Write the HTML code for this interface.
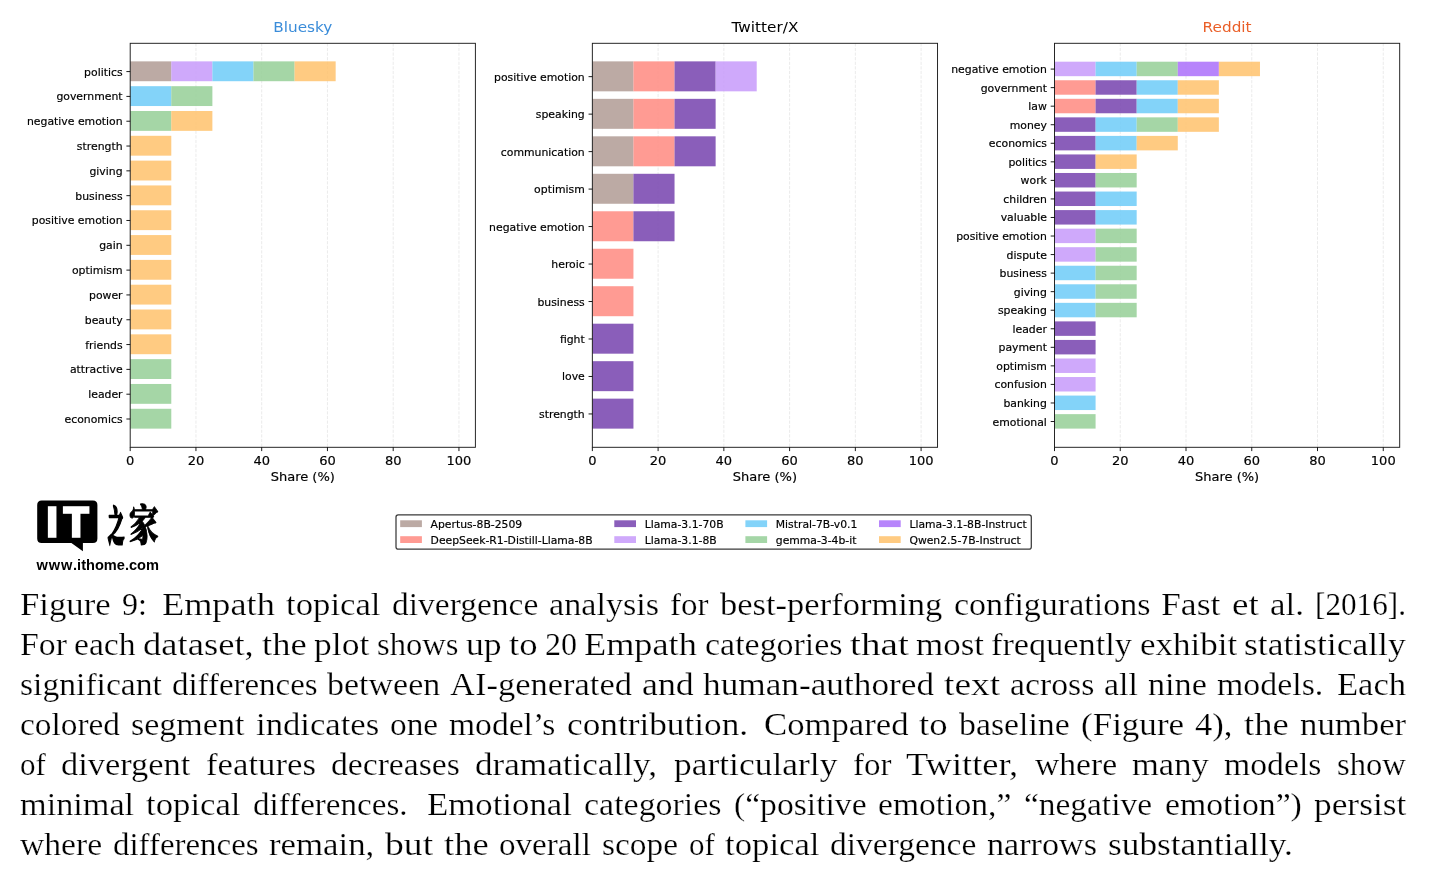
<!DOCTYPE html>
<html lang="en"><head><meta charset="utf-8"><title>Figure 9</title>
<style>
html,body{margin:0;padding:0;background:#fff}
.ch text,.lg text{stroke:#000;stroke-width:.18px}
.ch text.ti{stroke:none}
body{width:1440px;height:876px;position:relative;overflow:hidden}
.ln{position:absolute;left:19px;width:1400px;height:40px;line-height:40px;font-family:"Liberation Serif",serif;font-size:32.6px;color:#000;white-space:nowrap;font-kerning:normal;-webkit-text-stroke:0.24px #fff;paint-order:fill stroke}
.ln span{position:absolute;top:0;display:block;transform-origin:0 0}
</style></head><body>
<svg width="1440" height="590" viewBox="0 0 1440 590" style="position:absolute;left:0;top:0" font-family="'DejaVu Sans', 'Liberation Sans', sans-serif">
<g class="ch">
<line x1="195.95" y1="43.30" x2="195.95" y2="447.30" stroke="#b0b0b0" stroke-opacity="0.28" stroke-width="0.9" stroke-dasharray="3.2 1.4"/>
<line x1="261.70" y1="43.30" x2="261.70" y2="447.30" stroke="#b0b0b0" stroke-opacity="0.28" stroke-width="0.9" stroke-dasharray="3.2 1.4"/>
<line x1="327.45" y1="43.30" x2="327.45" y2="447.30" stroke="#b0b0b0" stroke-opacity="0.28" stroke-width="0.9" stroke-dasharray="3.2 1.4"/>
<line x1="393.20" y1="43.30" x2="393.20" y2="447.30" stroke="#b0b0b0" stroke-opacity="0.28" stroke-width="0.9" stroke-dasharray="3.2 1.4"/>
<line x1="458.95" y1="43.30" x2="458.95" y2="447.30" stroke="#b0b0b0" stroke-opacity="0.28" stroke-width="0.9" stroke-dasharray="3.2 1.4"/>
<rect x="130.20" y="61.36" width="41.09" height="19.85" fill="#b09b94" fill-opacity="0.85"/>
<rect x="171.29" y="61.36" width="41.09" height="19.85" fill="#c79afa" fill-opacity="0.85"/>
<rect x="212.39" y="61.36" width="41.09" height="19.85" fill="#6dcbf8" fill-opacity="0.85"/>
<rect x="253.48" y="61.36" width="41.09" height="19.85" fill="#95cf97" fill-opacity="0.85"/>
<rect x="294.57" y="61.36" width="41.09" height="19.85" fill="#ffc26c" fill-opacity="0.85"/>
<rect x="130.20" y="86.18" width="41.09" height="19.85" fill="#6dcbf8" fill-opacity="0.85"/>
<rect x="171.29" y="86.18" width="41.09" height="19.85" fill="#95cf97" fill-opacity="0.85"/>
<rect x="130.20" y="111.00" width="41.09" height="19.85" fill="#95cf97" fill-opacity="0.85"/>
<rect x="171.29" y="111.00" width="41.09" height="19.85" fill="#ffc26c" fill-opacity="0.85"/>
<rect x="130.20" y="135.81" width="41.09" height="19.85" fill="#ffc26c" fill-opacity="0.85"/>
<rect x="130.20" y="160.63" width="41.09" height="19.85" fill="#ffc26c" fill-opacity="0.85"/>
<rect x="130.20" y="185.44" width="41.09" height="19.85" fill="#ffc26c" fill-opacity="0.85"/>
<rect x="130.20" y="210.26" width="41.09" height="19.85" fill="#ffc26c" fill-opacity="0.85"/>
<rect x="130.20" y="235.07" width="41.09" height="19.85" fill="#ffc26c" fill-opacity="0.85"/>
<rect x="130.20" y="259.89" width="41.09" height="19.85" fill="#ffc26c" fill-opacity="0.85"/>
<rect x="130.20" y="284.71" width="41.09" height="19.85" fill="#ffc26c" fill-opacity="0.85"/>
<rect x="130.20" y="309.52" width="41.09" height="19.85" fill="#ffc26c" fill-opacity="0.85"/>
<rect x="130.20" y="334.34" width="41.09" height="19.85" fill="#ffc26c" fill-opacity="0.85"/>
<rect x="130.20" y="359.15" width="41.09" height="19.85" fill="#95cf97" fill-opacity="0.85"/>
<rect x="130.20" y="383.97" width="41.09" height="19.85" fill="#95cf97" fill-opacity="0.85"/>
<rect x="130.20" y="408.78" width="41.09" height="19.85" fill="#95cf97" fill-opacity="0.85"/>
<rect x="130.20" y="43.30" width="345.19" height="404.00" fill="none" stroke="#1c1c1c" stroke-width="0.95"/>
<line x1="126.40" y1="71.59" x2="130.20" y2="71.59" stroke="#000" stroke-width="0.9"/>
<text x="122.60" y="75.59" font-size="10.86" text-anchor="end">politics</text>
<line x1="126.40" y1="96.41" x2="130.20" y2="96.41" stroke="#000" stroke-width="0.9"/>
<text x="122.60" y="100.41" font-size="10.86" text-anchor="end">government</text>
<line x1="126.40" y1="121.22" x2="130.20" y2="121.22" stroke="#000" stroke-width="0.9"/>
<text x="122.60" y="125.22" font-size="10.86" text-anchor="end">negative emotion</text>
<line x1="126.40" y1="146.04" x2="130.20" y2="146.04" stroke="#000" stroke-width="0.9"/>
<text x="122.60" y="150.04" font-size="10.86" text-anchor="end">strength</text>
<line x1="126.40" y1="170.85" x2="130.20" y2="170.85" stroke="#000" stroke-width="0.9"/>
<text x="122.60" y="174.85" font-size="10.86" text-anchor="end">giving</text>
<line x1="126.40" y1="195.67" x2="130.20" y2="195.67" stroke="#000" stroke-width="0.9"/>
<text x="122.60" y="199.67" font-size="10.86" text-anchor="end">business</text>
<line x1="126.40" y1="220.48" x2="130.20" y2="220.48" stroke="#000" stroke-width="0.9"/>
<text x="122.60" y="224.48" font-size="10.86" text-anchor="end">positive emotion</text>
<line x1="126.40" y1="245.30" x2="130.20" y2="245.30" stroke="#000" stroke-width="0.9"/>
<text x="122.60" y="249.30" font-size="10.86" text-anchor="end">gain</text>
<line x1="126.40" y1="270.12" x2="130.20" y2="270.12" stroke="#000" stroke-width="0.9"/>
<text x="122.60" y="274.12" font-size="10.86" text-anchor="end">optimism</text>
<line x1="126.40" y1="294.93" x2="130.20" y2="294.93" stroke="#000" stroke-width="0.9"/>
<text x="122.60" y="298.93" font-size="10.86" text-anchor="end">power</text>
<line x1="126.40" y1="319.75" x2="130.20" y2="319.75" stroke="#000" stroke-width="0.9"/>
<text x="122.60" y="323.75" font-size="10.86" text-anchor="end">beauty</text>
<line x1="126.40" y1="344.56" x2="130.20" y2="344.56" stroke="#000" stroke-width="0.9"/>
<text x="122.60" y="348.56" font-size="10.86" text-anchor="end">friends</text>
<line x1="126.40" y1="369.38" x2="130.20" y2="369.38" stroke="#000" stroke-width="0.9"/>
<text x="122.60" y="373.38" font-size="10.86" text-anchor="end">attractive</text>
<line x1="126.40" y1="394.19" x2="130.20" y2="394.19" stroke="#000" stroke-width="0.9"/>
<text x="122.60" y="398.19" font-size="10.86" text-anchor="end">leader</text>
<line x1="126.40" y1="419.01" x2="130.20" y2="419.01" stroke="#000" stroke-width="0.9"/>
<text x="122.60" y="423.01" font-size="10.86" text-anchor="end">economics</text>
<line x1="130.20" y1="447.30" x2="130.20" y2="451.10" stroke="#000" stroke-width="0.9"/>
<text x="130.20" y="464.5" font-size="13.03" text-anchor="middle">0</text>
<line x1="195.95" y1="447.30" x2="195.95" y2="451.10" stroke="#000" stroke-width="0.9"/>
<text x="195.95" y="464.5" font-size="13.03" text-anchor="middle">20</text>
<line x1="261.70" y1="447.30" x2="261.70" y2="451.10" stroke="#000" stroke-width="0.9"/>
<text x="261.70" y="464.5" font-size="13.03" text-anchor="middle">40</text>
<line x1="327.45" y1="447.30" x2="327.45" y2="451.10" stroke="#000" stroke-width="0.9"/>
<text x="327.45" y="464.5" font-size="13.03" text-anchor="middle">60</text>
<line x1="393.20" y1="447.30" x2="393.20" y2="451.10" stroke="#000" stroke-width="0.9"/>
<text x="393.20" y="464.5" font-size="13.03" text-anchor="middle">80</text>
<line x1="458.95" y1="447.30" x2="458.95" y2="451.10" stroke="#000" stroke-width="0.9"/>
<text x="458.95" y="464.5" font-size="13.03" text-anchor="middle">100</text>
<text x="302.79" y="480.9" font-size="13.03" text-anchor="middle">Share (%)</text>
<text transform="translate(302.79 31.8) scale(1.04 1)" x="0" y="0" font-size="14.7" text-anchor="middle" class="ti" fill="#3a8cd9">Bluesky</text>
</g>
<g class="ch">
<line x1="658.10" y1="43.30" x2="658.10" y2="447.30" stroke="#b0b0b0" stroke-opacity="0.28" stroke-width="0.9" stroke-dasharray="3.2 1.4"/>
<line x1="723.85" y1="43.30" x2="723.85" y2="447.30" stroke="#b0b0b0" stroke-opacity="0.28" stroke-width="0.9" stroke-dasharray="3.2 1.4"/>
<line x1="789.60" y1="43.30" x2="789.60" y2="447.30" stroke="#b0b0b0" stroke-opacity="0.28" stroke-width="0.9" stroke-dasharray="3.2 1.4"/>
<line x1="855.35" y1="43.30" x2="855.35" y2="447.30" stroke="#b0b0b0" stroke-opacity="0.28" stroke-width="0.9" stroke-dasharray="3.2 1.4"/>
<line x1="921.10" y1="43.30" x2="921.10" y2="447.30" stroke="#b0b0b0" stroke-opacity="0.28" stroke-width="0.9" stroke-dasharray="3.2 1.4"/>
<rect x="592.35" y="61.36" width="41.09" height="29.98" fill="#b09b94" fill-opacity="0.85"/>
<rect x="633.44" y="61.36" width="41.09" height="29.98" fill="#ff8980" fill-opacity="0.85"/>
<rect x="674.54" y="61.36" width="41.09" height="29.98" fill="#7542ae" fill-opacity="0.85"/>
<rect x="715.63" y="61.36" width="41.09" height="29.98" fill="#c79afa" fill-opacity="0.85"/>
<rect x="592.35" y="98.84" width="41.09" height="29.98" fill="#b09b94" fill-opacity="0.85"/>
<rect x="633.44" y="98.84" width="41.09" height="29.98" fill="#ff8980" fill-opacity="0.85"/>
<rect x="674.54" y="98.84" width="41.09" height="29.98" fill="#7542ae" fill-opacity="0.85"/>
<rect x="592.35" y="136.32" width="41.09" height="29.98" fill="#b09b94" fill-opacity="0.85"/>
<rect x="633.44" y="136.32" width="41.09" height="29.98" fill="#ff8980" fill-opacity="0.85"/>
<rect x="674.54" y="136.32" width="41.09" height="29.98" fill="#7542ae" fill-opacity="0.85"/>
<rect x="592.35" y="173.79" width="41.09" height="29.98" fill="#b09b94" fill-opacity="0.85"/>
<rect x="633.44" y="173.79" width="41.09" height="29.98" fill="#7542ae" fill-opacity="0.85"/>
<rect x="592.35" y="211.27" width="41.09" height="29.98" fill="#ff8980" fill-opacity="0.85"/>
<rect x="633.44" y="211.27" width="41.09" height="29.98" fill="#7542ae" fill-opacity="0.85"/>
<rect x="592.35" y="248.75" width="41.09" height="29.98" fill="#ff8980" fill-opacity="0.85"/>
<rect x="592.35" y="286.22" width="41.09" height="29.98" fill="#ff8980" fill-opacity="0.85"/>
<rect x="592.35" y="323.70" width="41.09" height="29.98" fill="#7542ae" fill-opacity="0.85"/>
<rect x="592.35" y="361.18" width="41.09" height="29.98" fill="#7542ae" fill-opacity="0.85"/>
<rect x="592.35" y="398.65" width="41.09" height="29.98" fill="#7542ae" fill-opacity="0.85"/>
<rect x="592.35" y="43.30" width="345.19" height="404.00" fill="none" stroke="#1c1c1c" stroke-width="0.95"/>
<line x1="588.55" y1="76.65" x2="592.35" y2="76.65" stroke="#000" stroke-width="0.9"/>
<text x="584.75" y="80.65" font-size="10.86" text-anchor="end">positive emotion</text>
<line x1="588.55" y1="114.13" x2="592.35" y2="114.13" stroke="#000" stroke-width="0.9"/>
<text x="584.75" y="118.13" font-size="10.86" text-anchor="end">speaking</text>
<line x1="588.55" y1="151.61" x2="592.35" y2="151.61" stroke="#000" stroke-width="0.9"/>
<text x="584.75" y="155.61" font-size="10.86" text-anchor="end">communication</text>
<line x1="588.55" y1="189.08" x2="592.35" y2="189.08" stroke="#000" stroke-width="0.9"/>
<text x="584.75" y="193.08" font-size="10.86" text-anchor="end">optimism</text>
<line x1="588.55" y1="226.56" x2="592.35" y2="226.56" stroke="#000" stroke-width="0.9"/>
<text x="584.75" y="230.56" font-size="10.86" text-anchor="end">negative emotion</text>
<line x1="588.55" y1="264.04" x2="592.35" y2="264.04" stroke="#000" stroke-width="0.9"/>
<text x="584.75" y="268.04" font-size="10.86" text-anchor="end">heroic</text>
<line x1="588.55" y1="301.52" x2="592.35" y2="301.52" stroke="#000" stroke-width="0.9"/>
<text x="584.75" y="305.52" font-size="10.86" text-anchor="end">business</text>
<line x1="588.55" y1="338.99" x2="592.35" y2="338.99" stroke="#000" stroke-width="0.9"/>
<text x="584.75" y="342.99" font-size="10.86" text-anchor="end">fight</text>
<line x1="588.55" y1="376.47" x2="592.35" y2="376.47" stroke="#000" stroke-width="0.9"/>
<text x="584.75" y="380.47" font-size="10.86" text-anchor="end">love</text>
<line x1="588.55" y1="413.95" x2="592.35" y2="413.95" stroke="#000" stroke-width="0.9"/>
<text x="584.75" y="417.95" font-size="10.86" text-anchor="end">strength</text>
<line x1="592.35" y1="447.30" x2="592.35" y2="451.10" stroke="#000" stroke-width="0.9"/>
<text x="592.35" y="464.5" font-size="13.03" text-anchor="middle">0</text>
<line x1="658.10" y1="447.30" x2="658.10" y2="451.10" stroke="#000" stroke-width="0.9"/>
<text x="658.10" y="464.5" font-size="13.03" text-anchor="middle">20</text>
<line x1="723.85" y1="447.30" x2="723.85" y2="451.10" stroke="#000" stroke-width="0.9"/>
<text x="723.85" y="464.5" font-size="13.03" text-anchor="middle">40</text>
<line x1="789.60" y1="447.30" x2="789.60" y2="451.10" stroke="#000" stroke-width="0.9"/>
<text x="789.60" y="464.5" font-size="13.03" text-anchor="middle">60</text>
<line x1="855.35" y1="447.30" x2="855.35" y2="451.10" stroke="#000" stroke-width="0.9"/>
<text x="855.35" y="464.5" font-size="13.03" text-anchor="middle">80</text>
<line x1="921.10" y1="447.30" x2="921.10" y2="451.10" stroke="#000" stroke-width="0.9"/>
<text x="921.10" y="464.5" font-size="13.03" text-anchor="middle">100</text>
<text x="764.94" y="480.9" font-size="13.03" text-anchor="middle">Share (%)</text>
<text transform="translate(764.94 31.8) scale(1.04 1)" x="0" y="0" font-size="14.7" text-anchor="middle" class="ti" fill="#000">Twitter/X</text>
</g>
<g class="ch">
<line x1="1120.25" y1="43.30" x2="1120.25" y2="447.30" stroke="#b0b0b0" stroke-opacity="0.28" stroke-width="0.9" stroke-dasharray="3.2 1.4"/>
<line x1="1186.00" y1="43.30" x2="1186.00" y2="447.30" stroke="#b0b0b0" stroke-opacity="0.28" stroke-width="0.9" stroke-dasharray="3.2 1.4"/>
<line x1="1251.75" y1="43.30" x2="1251.75" y2="447.30" stroke="#b0b0b0" stroke-opacity="0.28" stroke-width="0.9" stroke-dasharray="3.2 1.4"/>
<line x1="1317.50" y1="43.30" x2="1317.50" y2="447.30" stroke="#b0b0b0" stroke-opacity="0.28" stroke-width="0.9" stroke-dasharray="3.2 1.4"/>
<line x1="1383.25" y1="43.30" x2="1383.25" y2="447.30" stroke="#b0b0b0" stroke-opacity="0.28" stroke-width="0.9" stroke-dasharray="3.2 1.4"/>
<rect x="1054.50" y="61.70" width="41.09" height="14.47" fill="#c79afa" fill-opacity="0.85"/>
<rect x="1095.59" y="61.70" width="41.09" height="14.47" fill="#6dcbf8" fill-opacity="0.85"/>
<rect x="1136.69" y="61.70" width="41.09" height="14.47" fill="#95cf97" fill-opacity="0.85"/>
<rect x="1177.78" y="61.70" width="41.09" height="14.47" fill="#aa6ffa" fill-opacity="0.85"/>
<rect x="1218.88" y="61.70" width="41.09" height="14.47" fill="#ffc26c" fill-opacity="0.85"/>
<rect x="1054.50" y="80.25" width="41.09" height="14.47" fill="#ff8980" fill-opacity="0.85"/>
<rect x="1095.59" y="80.25" width="41.09" height="14.47" fill="#7542ae" fill-opacity="0.85"/>
<rect x="1136.69" y="80.25" width="41.09" height="14.47" fill="#6dcbf8" fill-opacity="0.85"/>
<rect x="1177.78" y="80.25" width="41.09" height="14.47" fill="#ffc26c" fill-opacity="0.85"/>
<rect x="1054.50" y="98.80" width="41.09" height="14.47" fill="#ff8980" fill-opacity="0.85"/>
<rect x="1095.59" y="98.80" width="41.09" height="14.47" fill="#7542ae" fill-opacity="0.85"/>
<rect x="1136.69" y="98.80" width="41.09" height="14.47" fill="#6dcbf8" fill-opacity="0.85"/>
<rect x="1177.78" y="98.80" width="41.09" height="14.47" fill="#ffc26c" fill-opacity="0.85"/>
<rect x="1054.50" y="117.35" width="41.09" height="14.47" fill="#7542ae" fill-opacity="0.85"/>
<rect x="1095.59" y="117.35" width="41.09" height="14.47" fill="#6dcbf8" fill-opacity="0.85"/>
<rect x="1136.69" y="117.35" width="41.09" height="14.47" fill="#95cf97" fill-opacity="0.85"/>
<rect x="1177.78" y="117.35" width="41.09" height="14.47" fill="#ffc26c" fill-opacity="0.85"/>
<rect x="1054.50" y="135.90" width="41.09" height="14.47" fill="#7542ae" fill-opacity="0.85"/>
<rect x="1095.59" y="135.90" width="41.09" height="14.47" fill="#6dcbf8" fill-opacity="0.85"/>
<rect x="1136.69" y="135.90" width="41.09" height="14.47" fill="#ffc26c" fill-opacity="0.85"/>
<rect x="1054.50" y="154.44" width="41.09" height="14.47" fill="#7542ae" fill-opacity="0.85"/>
<rect x="1095.59" y="154.44" width="41.09" height="14.47" fill="#ffc26c" fill-opacity="0.85"/>
<rect x="1054.50" y="172.99" width="41.09" height="14.47" fill="#7542ae" fill-opacity="0.85"/>
<rect x="1095.59" y="172.99" width="41.09" height="14.47" fill="#95cf97" fill-opacity="0.85"/>
<rect x="1054.50" y="191.54" width="41.09" height="14.47" fill="#7542ae" fill-opacity="0.85"/>
<rect x="1095.59" y="191.54" width="41.09" height="14.47" fill="#6dcbf8" fill-opacity="0.85"/>
<rect x="1054.50" y="210.09" width="41.09" height="14.47" fill="#7542ae" fill-opacity="0.85"/>
<rect x="1095.59" y="210.09" width="41.09" height="14.47" fill="#6dcbf8" fill-opacity="0.85"/>
<rect x="1054.50" y="228.64" width="41.09" height="14.47" fill="#c79afa" fill-opacity="0.85"/>
<rect x="1095.59" y="228.64" width="41.09" height="14.47" fill="#95cf97" fill-opacity="0.85"/>
<rect x="1054.50" y="247.19" width="41.09" height="14.47" fill="#c79afa" fill-opacity="0.85"/>
<rect x="1095.59" y="247.19" width="41.09" height="14.47" fill="#95cf97" fill-opacity="0.85"/>
<rect x="1054.50" y="265.74" width="41.09" height="14.47" fill="#6dcbf8" fill-opacity="0.85"/>
<rect x="1095.59" y="265.74" width="41.09" height="14.47" fill="#95cf97" fill-opacity="0.85"/>
<rect x="1054.50" y="284.29" width="41.09" height="14.47" fill="#6dcbf8" fill-opacity="0.85"/>
<rect x="1095.59" y="284.29" width="41.09" height="14.47" fill="#95cf97" fill-opacity="0.85"/>
<rect x="1054.50" y="302.84" width="41.09" height="14.47" fill="#6dcbf8" fill-opacity="0.85"/>
<rect x="1095.59" y="302.84" width="41.09" height="14.47" fill="#95cf97" fill-opacity="0.85"/>
<rect x="1054.50" y="321.39" width="41.09" height="14.47" fill="#7542ae" fill-opacity="0.85"/>
<rect x="1054.50" y="339.94" width="41.09" height="14.47" fill="#7542ae" fill-opacity="0.85"/>
<rect x="1054.50" y="358.49" width="41.09" height="14.47" fill="#c79afa" fill-opacity="0.85"/>
<rect x="1054.50" y="377.03" width="41.09" height="14.47" fill="#c79afa" fill-opacity="0.85"/>
<rect x="1054.50" y="395.58" width="41.09" height="14.47" fill="#6dcbf8" fill-opacity="0.85"/>
<rect x="1054.50" y="414.13" width="41.09" height="14.47" fill="#95cf97" fill-opacity="0.85"/>
<rect x="1054.50" y="43.30" width="345.19" height="404.00" fill="none" stroke="#1c1c1c" stroke-width="0.95"/>
<line x1="1050.70" y1="69.08" x2="1054.50" y2="69.08" stroke="#000" stroke-width="0.9"/>
<text x="1046.90" y="73.08" font-size="10.86" text-anchor="end">negative emotion</text>
<line x1="1050.70" y1="87.63" x2="1054.50" y2="87.63" stroke="#000" stroke-width="0.9"/>
<text x="1046.90" y="91.63" font-size="10.86" text-anchor="end">government</text>
<line x1="1050.70" y1="106.18" x2="1054.50" y2="106.18" stroke="#000" stroke-width="0.9"/>
<text x="1046.90" y="110.18" font-size="10.86" text-anchor="end">law</text>
<line x1="1050.70" y1="124.73" x2="1054.50" y2="124.73" stroke="#000" stroke-width="0.9"/>
<text x="1046.90" y="128.73" font-size="10.86" text-anchor="end">money</text>
<line x1="1050.70" y1="143.28" x2="1054.50" y2="143.28" stroke="#000" stroke-width="0.9"/>
<text x="1046.90" y="147.28" font-size="10.86" text-anchor="end">economics</text>
<line x1="1050.70" y1="161.83" x2="1054.50" y2="161.83" stroke="#000" stroke-width="0.9"/>
<text x="1046.90" y="165.83" font-size="10.86" text-anchor="end">politics</text>
<line x1="1050.70" y1="180.38" x2="1054.50" y2="180.38" stroke="#000" stroke-width="0.9"/>
<text x="1046.90" y="184.38" font-size="10.86" text-anchor="end">work</text>
<line x1="1050.70" y1="198.93" x2="1054.50" y2="198.93" stroke="#000" stroke-width="0.9"/>
<text x="1046.90" y="202.93" font-size="10.86" text-anchor="end">children</text>
<line x1="1050.70" y1="217.48" x2="1054.50" y2="217.48" stroke="#000" stroke-width="0.9"/>
<text x="1046.90" y="221.48" font-size="10.86" text-anchor="end">valuable</text>
<line x1="1050.70" y1="236.03" x2="1054.50" y2="236.03" stroke="#000" stroke-width="0.9"/>
<text x="1046.90" y="240.03" font-size="10.86" text-anchor="end">positive emotion</text>
<line x1="1050.70" y1="254.57" x2="1054.50" y2="254.57" stroke="#000" stroke-width="0.9"/>
<text x="1046.90" y="258.57" font-size="10.86" text-anchor="end">dispute</text>
<line x1="1050.70" y1="273.12" x2="1054.50" y2="273.12" stroke="#000" stroke-width="0.9"/>
<text x="1046.90" y="277.12" font-size="10.86" text-anchor="end">business</text>
<line x1="1050.70" y1="291.67" x2="1054.50" y2="291.67" stroke="#000" stroke-width="0.9"/>
<text x="1046.90" y="295.67" font-size="10.86" text-anchor="end">giving</text>
<line x1="1050.70" y1="310.22" x2="1054.50" y2="310.22" stroke="#000" stroke-width="0.9"/>
<text x="1046.90" y="314.22" font-size="10.86" text-anchor="end">speaking</text>
<line x1="1050.70" y1="328.77" x2="1054.50" y2="328.77" stroke="#000" stroke-width="0.9"/>
<text x="1046.90" y="332.77" font-size="10.86" text-anchor="end">leader</text>
<line x1="1050.70" y1="347.32" x2="1054.50" y2="347.32" stroke="#000" stroke-width="0.9"/>
<text x="1046.90" y="351.32" font-size="10.86" text-anchor="end">payment</text>
<line x1="1050.70" y1="365.87" x2="1054.50" y2="365.87" stroke="#000" stroke-width="0.9"/>
<text x="1046.90" y="369.87" font-size="10.86" text-anchor="end">optimism</text>
<line x1="1050.70" y1="384.42" x2="1054.50" y2="384.42" stroke="#000" stroke-width="0.9"/>
<text x="1046.90" y="388.42" font-size="10.86" text-anchor="end">confusion</text>
<line x1="1050.70" y1="402.97" x2="1054.50" y2="402.97" stroke="#000" stroke-width="0.9"/>
<text x="1046.90" y="406.97" font-size="10.86" text-anchor="end">banking</text>
<line x1="1050.70" y1="421.52" x2="1054.50" y2="421.52" stroke="#000" stroke-width="0.9"/>
<text x="1046.90" y="425.52" font-size="10.86" text-anchor="end">emotional</text>
<line x1="1054.50" y1="447.30" x2="1054.50" y2="451.10" stroke="#000" stroke-width="0.9"/>
<text x="1054.50" y="464.5" font-size="13.03" text-anchor="middle">0</text>
<line x1="1120.25" y1="447.30" x2="1120.25" y2="451.10" stroke="#000" stroke-width="0.9"/>
<text x="1120.25" y="464.5" font-size="13.03" text-anchor="middle">20</text>
<line x1="1186.00" y1="447.30" x2="1186.00" y2="451.10" stroke="#000" stroke-width="0.9"/>
<text x="1186.00" y="464.5" font-size="13.03" text-anchor="middle">40</text>
<line x1="1251.75" y1="447.30" x2="1251.75" y2="451.10" stroke="#000" stroke-width="0.9"/>
<text x="1251.75" y="464.5" font-size="13.03" text-anchor="middle">60</text>
<line x1="1317.50" y1="447.30" x2="1317.50" y2="451.10" stroke="#000" stroke-width="0.9"/>
<text x="1317.50" y="464.5" font-size="13.03" text-anchor="middle">80</text>
<line x1="1383.25" y1="447.30" x2="1383.25" y2="451.10" stroke="#000" stroke-width="0.9"/>
<text x="1383.25" y="464.5" font-size="13.03" text-anchor="middle">100</text>
<text x="1227.09" y="480.9" font-size="13.03" text-anchor="middle">Share (%)</text>
<text transform="translate(1227.09 31.8) scale(1.04 1)" x="0" y="0" font-size="14.7" text-anchor="middle" class="ti" fill="#ea5f28">Reddit</text>
</g>
<g class="lg">
<rect x="396" y="514.8" width="635.3" height="34.4" rx="2.2" fill="#fff" stroke="#3a3a3a" stroke-width="1.25"/>
<rect x="400.2" y="520.30" width="21.7" height="6.8" fill="#bcaaa4"/>
<text x="430.6" y="527.70" font-size="10.8">Apertus-8B-2509</text>
<rect x="400.2" y="536.20" width="21.7" height="6.8" fill="#ff9b93"/>
<text x="430.6" y="543.50" font-size="10.8">DeepSeek-R1-Distill-Llama-8B</text>
<rect x="614.3" y="520.30" width="21.7" height="6.8" fill="#8a5eba"/>
<text x="644.7" y="527.70" font-size="10.8">Llama-3.1-70B</text>
<rect x="614.3" y="536.20" width="21.7" height="6.8" fill="#cfa9fb"/>
<text x="644.7" y="543.50" font-size="10.8">Llama-3.1-8B</text>
<rect x="745.4" y="520.30" width="21.7" height="6.8" fill="#83d3f9"/>
<text x="775.8" y="527.70" font-size="10.8">Mistral-7B-v0.1</text>
<rect x="745.4" y="536.20" width="21.7" height="6.8" fill="#a5d6a7"/>
<text x="775.8" y="543.50" font-size="10.8">gemma-3-4b-it</text>
<rect x="879.0" y="520.30" width="21.7" height="6.8" fill="#b785fb"/>
<text x="909.4" y="527.70" font-size="10.8">Llama-3.1-8B-Instruct</text>
<rect x="879.0" y="536.20" width="21.7" height="6.8" fill="#ffcb82"/>
<text x="909.4" y="543.50" font-size="10.8">Qwen2.5-7B-Instruct</text>
</g>
<g fill="#000">
<path d="M41.7 500.5 H92.9 Q97.4 500.5 97.4 505 V538.5 Q97.4 543 92.9 543 H82.9 V551.2 L71.4 543 H41.7 Q37.2 543 37.2 538.5 V505 Q37.2 500.5 41.7 500.5 Z"/>
<g font-family="'DejaVu Sans', 'Liberation Sans', sans-serif" font-weight="bold" font-size="41.7" fill="#fff" stroke="#fff" stroke-width="1.7" stroke-linejoin="miter">
<text transform="translate(48.6 537.2) scale(0.89 1)" x="-3.84 16.62" y="0">IT</text>
</g>
<g font-family="'Liberation Serif', 'Noto Serif CJK SC', serif" font-weight="900" font-size="40" stroke="#000" stroke-linejoin="round">
<text transform="translate(107.9 541.0) scale(0.42 1.03)" x="-0.64" y="0" stroke-width="2.2">之</text><text transform="translate(129.9 540.6) scale(0.75 1.09)" x="-1.48" y="0" stroke-width="0.9">家</text>
</g>
<text x="36.6" y="569.8" font-family="'Liberation Sans', sans-serif" font-weight="bold" font-size="14.6"><tspan letter-spacing="0.8">www</tspan>.ithome.com</text>
</g>
</svg>
<div class="ln" style="top:583.7px"><span style="left:1.00px;letter-spacing:0.000px;transform:scaleX(1.0651)">Figure</span> <span style="left:102.79px;letter-spacing:0.000px;transform:scaleX(0.9851)">9:</span> <span style="left:143.03px;letter-spacing:0.000px;transform:scaleX(1.1130)">Empath</span> <span style="left:267.02px;letter-spacing:0.000px;transform:scaleX(1.0661)">topical</span> <span style="left:372.74px;letter-spacing:0.000px;transform:scaleX(1.0282)">divergence</span> <span style="left:530.26px;letter-spacing:0.000px;transform:scaleX(1.0482)">analysis</span> <span style="left:651.49px;letter-spacing:0.000px;transform:scaleX(1.0114)">for</span> <span style="left:701.12px;letter-spacing:0.000px;transform:scaleX(1.0595)">best-performing</span> <span style="left:934.71px;letter-spacing:0.000px;transform:scaleX(1.0438)">configurations</span> <span style="left:1142.34px;letter-spacing:0.000px;transform:scaleX(1.0950)">Fast</span> <span style="left:1213.02px;letter-spacing:-0.000px;transform:scaleX(1.1375)">et</span> <span style="left:1250.96px;letter-spacing:0.000px;transform:scaleX(1.0704)">al.</span> <span style="left:1296.05px;letter-spacing:0.000px;transform:scaleX(0.9574)">[2016].</span></div>
<div class="ln" style="top:623.7px"><span style="left:1.00px;letter-spacing:0.000px;transform:scaleX(1.0362)">For</span> <span style="left:55.33px;letter-spacing:0.000px;transform:scaleX(1.0310)">each</span> <span style="left:124.28px;letter-spacing:0.000px;transform:scaleX(1.1232)">dataset,</span> <span style="left:243.11px;letter-spacing:0.000px;transform:scaleX(1.1198)">the</span> <span style="left:295.12px;letter-spacing:0.000px;transform:scaleX(1.0907)">plot</span> <span style="left:357.83px;letter-spacing:0.000px;transform:scaleX(1.0003)">shows</span> <span style="left:446.75px;letter-spacing:0.000px;transform:scaleX(1.0949)">up</span> <span style="left:489.85px;letter-spacing:0.000px;transform:scaleX(1.1259)">to</span> <span style="left:525.81px;letter-spacing:0.000px;transform:scaleX(0.9853)">20</span> <span style="left:565.34px;letter-spacing:0.000px;transform:scaleX(1.1130)">Empath</span> <span style="left:685.57px;letter-spacing:0.000px;transform:scaleX(1.0419)">categories</span> <span style="left:830.57px;letter-spacing:0.000px;transform:scaleX(1.2045)">that</span> <span style="left:896.85px;letter-spacing:0.000px;transform:scaleX(1.0723)">most</span> <span style="left:972.22px;letter-spacing:0.000px;transform:scaleX(1.0529)">frequently</span> <span style="left:1120.63px;letter-spacing:0.000px;transform:scaleX(1.0742)">exhibit</span> <span style="left:1225.25px;letter-spacing:0.000px;transform:scaleX(1.0900)">statistically</span></div>
<div class="ln" style="top:663.7px"><span style="left:1.00px;letter-spacing:0.000px;transform:scaleX(1.0322)">significant</span> <span style="left:152.75px;letter-spacing:0.000px;transform:scaleX(1.0104)">differences</span> <span style="left:308.15px;letter-spacing:0.000px;transform:scaleX(1.0432)">between</span> <span style="left:431.18px;letter-spacing:0.000px;transform:scaleX(1.0590)">AI-generated</span> <span style="left:622.96px;letter-spacing:0.000px;transform:scaleX(1.0993)">and</span> <span style="left:684.47px;letter-spacing:0.000px;transform:scaleX(1.0821)">human-authored</span> <span style="left:925.30px;letter-spacing:0.000px;transform:scaleX(1.1497)">text</span> <span style="left:991.27px;letter-spacing:0.000px;transform:scaleX(1.0348)">across</span> <span style="left:1085.32px;letter-spacing:0.000px;transform:scaleX(1.0406)">all</span> <span style="left:1129.00px;letter-spacing:0.000px;transform:scaleX(1.0492)">nine</span> <span style="left:1197.65px;letter-spacing:0.000px;transform:scaleX(1.0393)">models.</span> <span style="left:1317.89px;letter-spacing:0.000px;transform:scaleX(1.0614)">Each</span></div>
<div class="ln" style="top:703.7px"><span style="left:1.00px;letter-spacing:0.000px;transform:scaleX(1.0232)">colored</span> <span style="left:112.13px;letter-spacing:0.000px;transform:scaleX(1.0446)">segment</span> <span style="left:236.72px;letter-spacing:0.000px;transform:scaleX(1.0642)">indicates</span> <span style="left:371.12px;letter-spacing:0.000px;transform:scaleX(1.0234)">one</span> <span style="left:430.45px;letter-spacing:-0.000px;transform:scaleX(1.0302)">model’s</span> <span style="left:547.91px;letter-spacing:0.000px;transform:scaleX(1.0818)">contribution.</span> <span style="left:744.70px;letter-spacing:0.000px;transform:scaleX(1.0650)">Compared</span> <span style="left:900.42px;letter-spacing:0.000px;transform:scaleX(1.1259)">to</span> <span style="left:940.13px;letter-spacing:-0.000px;transform:scaleX(1.0374)">baseline</span> <span style="left:1062.04px;letter-spacing:0.000px;transform:scaleX(1.0748)">(Figure</span> <span style="left:1176.30px;letter-spacing:0.000px;transform:scaleX(1.0610)">4),</span> <span style="left:1225.04px;letter-spacing:0.000px;transform:scaleX(1.1198)">the</span> <span style="left:1280.80px;letter-spacing:0.000px;transform:scaleX(1.0670)">number</span></div>
<div class="ln" style="top:743.7px"><span style="left:1.00px;letter-spacing:0.000px;transform:scaleX(0.9528)">of</span> <span style="left:42.20px;letter-spacing:-0.000px;transform:scaleX(1.0566)">divergent</span> <span style="left:186.92px;letter-spacing:0.000px;transform:scaleX(1.0663)">features</span> <span style="left:312.20px;letter-spacing:0.000px;transform:scaleX(1.0324)">decreases</span> <span style="left:456.37px;letter-spacing:0.000px;transform:scaleX(1.0779)">dramatically,</span> <span style="left:654.86px;letter-spacing:0.000px;transform:scaleX(1.0879)">particularly</span> <span style="left:833.56px;letter-spacing:0.000px;transform:scaleX(1.0114)">for</span> <span style="left:887.33px;letter-spacing:0.000px;transform:scaleX(1.1163)">Twitter,</span> <span style="left:1015.98px;letter-spacing:0.000px;transform:scaleX(1.0318)">where</span> <span style="left:1113.44px;letter-spacing:0.000px;transform:scaleX(1.0593)">many</span> <span style="left:1205.46px;letter-spacing:0.000px;transform:scaleX(1.0346)">models</span> <span style="left:1318.16px;letter-spacing:0.000px;transform:scaleX(1.0006)">show</span></div>
<div class="ln" style="top:783.7px"><span style="left:1.00px;letter-spacing:0.000px;transform:scaleX(1.0510)">minimal</span> <span style="left:127.39px;letter-spacing:0.000px;transform:scaleX(1.0661)">topical</span> <span style="left:234.16px;letter-spacing:0.000px;transform:scaleX(1.0149)">differences.</span> <span style="left:407.61px;letter-spacing:0.000px;transform:scaleX(1.0675)">Emotional</span> <span style="left:564.76px;letter-spacing:0.000px;transform:scaleX(1.0419)">categories</span> <span style="left:714.59px;letter-spacing:0.000px;transform:scaleX(1.0321)">(“positive</span> <span style="left:859.44px;letter-spacing:0.000px;transform:scaleX(1.0304)">emotion,”</span> <span style="left:1005.38px;letter-spacing:0.000px;transform:scaleX(1.0252)">“negative</span> <span style="left:1145.59px;letter-spacing:0.000px;transform:scaleX(1.0362)">emotion”)</span> <span style="left:1294.71px;letter-spacing:-0.000px;transform:scaleX(1.0849)">persist</span></div>
<div class="ln" style="top:823.7px"><span style="left:1.00px;letter-spacing:0.000px;transform:scaleX(1.0318)">where</span> <span style="left:93.82px;letter-spacing:0.000px;transform:scaleX(1.0104)">differences</span> <span style="left:250.12px;letter-spacing:0.000px;transform:scaleX(1.0681)">remain,</span> <span style="left:366.13px;letter-spacing:0.000px;transform:scaleX(1.1564)">but</span> <span style="left:424.98px;letter-spacing:0.000px;transform:scaleX(1.1198)">the</span> <span style="left:480.27px;letter-spacing:0.000px;transform:scaleX(1.0164)">overall</span> <span style="left:582.90px;letter-spacing:0.000px;transform:scaleX(1.0240)">scope</span> <span style="left:669.56px;letter-spacing:0.000px;transform:scaleX(0.9528)">of</span> <span style="left:706.12px;letter-spacing:0.000px;transform:scaleX(1.0661)">topical</span> <span style="left:811.34px;letter-spacing:0.000px;transform:scaleX(1.0282)">divergence</span> <span style="left:968.36px;letter-spacing:0.000px;transform:scaleX(1.0484)">narrows</span> <span style="left:1089.09px;letter-spacing:0.000px;transform:scaleX(1.0833)">substantially.</span></div>
</body></html>
